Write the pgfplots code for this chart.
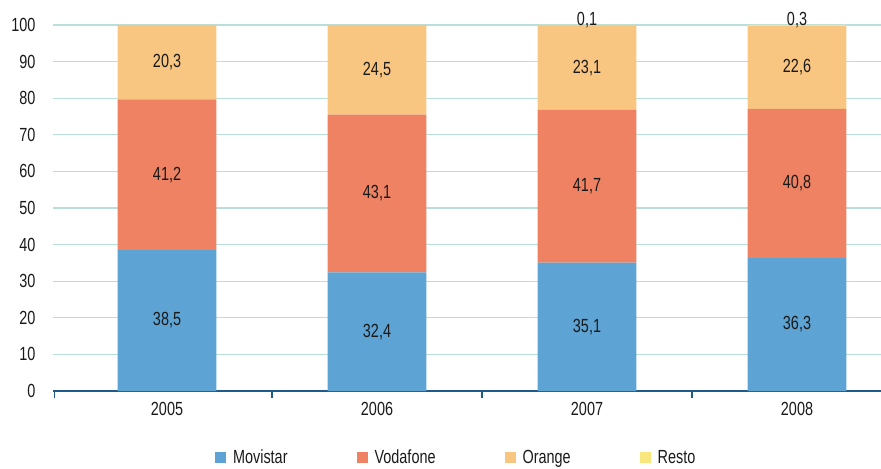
\documentclass[border=0pt]{standalone}
\usepackage{pgfplots}
\pgfplotsset{compat=1.18}
\usepackage{pgfplotstable}
\usepackage{fontspec}
\setmainfont{Liberation Sans}[FakeStretch=0.76]
\definecolor{cmov}{RGB}{93,163,211}
\definecolor{cvod}{RGB}{238,130,98}
\definecolor{cora}{RGB}{249,198,130}
\definecolor{cres}{RGB}{249,231,126}
\definecolor{cgrid}{RGB}{185,223,219}
\definecolor{caxis}{RGB}{31,90,140}
\definecolor{ctext}{RGB}{26,26,26}
\newcommand{\chf}{\fontsize{19bp}{22bp}\selectfont}
\pgfplotstableread{
x mov vod ora res movl vodl oral resl
0 38.5 41.2 20.3 0.0 38,5 41,2 20,3 {}
1 32.4 43.1 24.5 0.0 32,4 43,1 24,5 {}
2 35.1 41.7 23.1 0.1 35,1 41,7 23,1 0,1
3 36.3 40.8 22.6 0.3 36,3 40,8 22,6 0,3
}\data
\pgfplotsset{
  midlabel/.style={
    nodes near coords,
    point meta=explicit symbolic,
    every node near coord/.append style={anchor=center, text=ctext, font=\chf}
  }
}
\begin{document}
\begin{tikzpicture}[font=\chf]
\useasboundingbox (-53bp,-78bp) rectangle (828bp,391bp);
\begin{axis}[
  at={(0,0)}, anchor=south west,
  scale only axis, width=828bp, height=366bp,
  clip=false,
  ybar stacked, bar width=0.47,
  xmin=-0.543, xmax=3.40, ymin=0, ymax=100,
  xtick={0,1,2,3}, xticklabels={2005,2006,2007,2008},
  ytick={0,10,...,100},
  axis x line*=bottom, axis y line*=left,
  y axis line style={draw=none},
  x axis line style={draw=caxis, line width=1.2bp},
  major tick length=0pt,
  extra x ticks={-0.535,0.5,1.5,2.5},
  extra x tick labels={},
  extra x tick style={grid=none, major tick length=7bp, tick align=outside, tick style={draw=caxis, line width=1.2bp}},
  ymajorgrids, grid style={draw=cgrid, line width=1.2bp},
  /pgf/number format/assume math mode=true,
  ticklabel style={text=ctext, font=\chf},
  yticklabel style={xshift=-14bp},
  xticklabel style={yshift=-8bp},
  legend columns=4,
  legend image code/.code={\fill[#1,draw=none] (0bp,-5bp) rectangle (11bp,6bp);},
  legend style={draw=none, fill=none, text=ctext, font=\chf,
    at={(axis description cs:0.487,-0.182)}, anchor=center,
    /tikz/every odd column/.append style={column sep=5bp},
    /tikz/every even column/.append style={column sep=67bp}},
]
\addplot[fill=cmov, draw=none, midlabel] table[x=x, y=mov, meta=movl] {\data};
\addplot[fill=cvod, draw=none, midlabel] table[x=x, y=vod, meta=vodl] {\data};
\addplot[fill=cora, draw=none, midlabel] table[x=x, y=ora, meta=oral] {\data};
\addplot[fill=cres, draw=none, nodes near coords, point meta=explicit symbolic,
  every node near coord/.append style={anchor=base, text=ctext, font=\chf}] table[x=x, y=res, meta=resl] {\data};
\legend{Movistar, Vodafone, Orange, Resto}
\end{axis}
\end{tikzpicture}
\end{document}
